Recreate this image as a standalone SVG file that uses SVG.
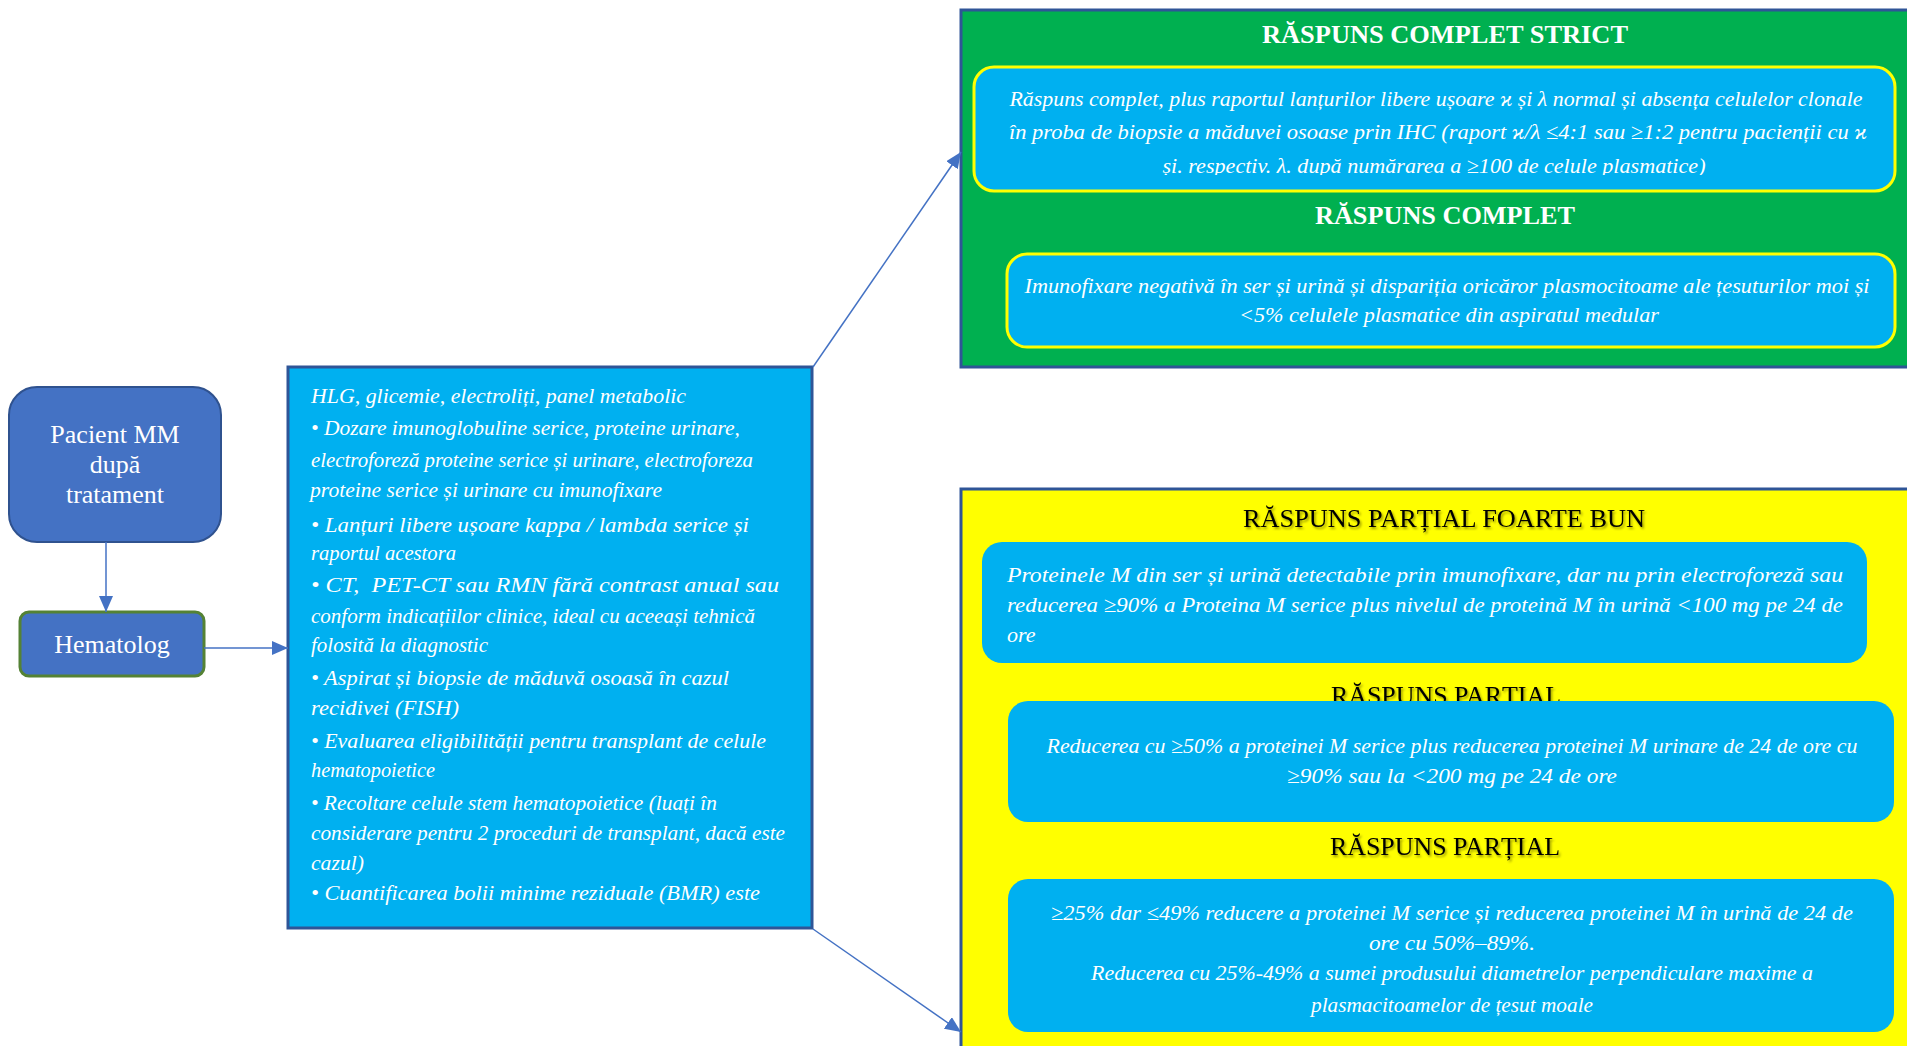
<svg xmlns="http://www.w3.org/2000/svg" width="1907" height="1046" viewBox="0 0 1907 1046">
<style>
.node{fill:#4472C4;}
.t{font-family:"Liberation Serif","Times New Roman",serif;}
.w{fill:#FFFFFF;}
.it{font-family:"Liberation Serif","DejaVu Serif",serif;font-style:italic;fill:#FFFFFF;font-size:22px;}
.bl{font-family:"Liberation Serif","DejaVu Serif",serif;font-style:italic;fill:#FFFFFF;font-size:21px;}
.ttl{font-family:"Liberation Serif",serif;font-size:25px;}
.cyan{fill:#00B0F0;}
.ybox{fill:#00B0F0;stroke:#FFFF00;stroke-width:3;}
.conn{stroke:#4472C4;stroke-width:1.5;fill:none;marker-end:url(#ah);}
</style>
<defs>
<marker id="ah" markerUnits="userSpaceOnUse" markerWidth="16" markerHeight="14" refX="16" refY="7" orient="auto">
<path d="M0,0 L16,7 L0,14 z" fill="#4472C4"/>
</marker>
<filter id="sh" x="-10%" y="-30%" width="120%" height="160%">
<feDropShadow dx="1.5" dy="2" stdDeviation="1.2" flood-color="#000000" flood-opacity="0.4"/>
</filter>
<clipPath id="c1"><rect x="974" y="67" width="921" height="108"/></clipPath>
</defs>
<rect width="1907" height="1046" fill="#FFFFFF"/>

<g id="pacient">
<rect x="9" y="387" width="212" height="155" rx="28" class="node" stroke="#2F528F" stroke-width="2"/>
<text class="t w" font-size="26" text-anchor="middle"><tspan x="115" y="443">Pacient MM</tspan><tspan x="115" y="473">după</tspan><tspan x="115" y="503">tratament</tspan></text>
</g>

<g id="hematolog">
<rect x="20" y="612" width="184" height="64" rx="9" class="node" stroke="#548235" stroke-width="3"/>
<text class="t w" font-size="26" text-anchor="middle" x="112" y="653">Hematolog</text>
</g>

<g id="investigatii">
<rect x="288" y="367" width="524" height="561" class="cyan" stroke="#2F5597" stroke-width="3"/>
<g class="bl">
<text x="311" y="403" textLength="375" lengthAdjust="spacingAndGlyphs">HLG, glicemie, electroliți, panel metabolic</text>
<text x="311" y="435" textLength="429" lengthAdjust="spacingAndGlyphs">• Dozare imunoglobuline serice, proteine urinare,</text>
<text x="311" y="467" textLength="442" lengthAdjust="spacingAndGlyphs">electroforeză proteine serice și urinare, electroforeza</text>
<text x="310" y="497" textLength="352" lengthAdjust="spacingAndGlyphs">proteine serice și urinare cu imunofixare</text>
<text x="311" y="532" textLength="438" lengthAdjust="spacingAndGlyphs">• Lanțuri libere ușoare kappa / lambda serice și</text>
<text x="311" y="560" textLength="145" lengthAdjust="spacingAndGlyphs">raportul acestora</text>
<text x="311" y="592" textLength="468" lengthAdjust="spacingAndGlyphs">• CT,&#160; PET-CT sau RMN fără contrast anual sau</text>
<text x="311" y="623" textLength="444" lengthAdjust="spacingAndGlyphs">conform indicațiilor clinice, ideal cu aceeași tehnică</text>
<text x="311" y="652" textLength="177" lengthAdjust="spacingAndGlyphs">folosită la diagnostic</text>
<text x="311" y="685" textLength="418" lengthAdjust="spacingAndGlyphs">• Aspirat și biopsie de măduvă osoasă în cazul</text>
<text x="311" y="715" textLength="148" lengthAdjust="spacingAndGlyphs">recidivei (FISH)</text>
<text x="311" y="748" textLength="455" lengthAdjust="spacingAndGlyphs">• Evaluarea eligibilității pentru transplant de celule</text>
<text x="311" y="777" textLength="124" lengthAdjust="spacingAndGlyphs">hematopoietice</text>
<text x="311" y="810" textLength="406" lengthAdjust="spacingAndGlyphs">• Recoltare celule stem hematopoietice (luați în</text>
<text x="311" y="840" textLength="474" lengthAdjust="spacingAndGlyphs">considerare pentru 2 proceduri de transplant, dacă este</text>
<text x="311" y="870" textLength="53" lengthAdjust="spacingAndGlyphs">cazul)</text>
<text x="311" y="900" textLength="449" lengthAdjust="spacingAndGlyphs">• Cuantificarea bolii minime reziduale (BMR) este</text>
</g>
</g>

<g id="raspuns-complet">
<rect x="961" y="10" width="960" height="357" fill="#00B050" stroke="#2F5597" stroke-width="3"/>
<text class="ttl w" font-weight="bold" x="1445" y="43" text-anchor="middle" textLength="366" lengthAdjust="spacingAndGlyphs">RĂSPUNS COMPLET STRICT</text>
<rect x="974" y="67" width="921" height="124" rx="20" class="ybox"/>
<g clip-path="url(#c1)" class="it" text-anchor="middle">
<text x="1436" y="106" textLength="853" lengthAdjust="spacingAndGlyphs">Răspuns complet, plus raportul lanțurilor libere ușoare ϰ și λ normal și absența celulelor clonale</text>
<text x="1438" y="139" textLength="858" lengthAdjust="spacingAndGlyphs">în proba de biopsie a măduvei osoase prin IHC (raport ϰ/λ ≤4:1 sau ≥1:2 pentru pacienții cu ϰ</text>
<text x="1434" y="173" textLength="543" lengthAdjust="spacingAndGlyphs">și. respectiv. λ. după numărarea a ≥100 de celule plasmatice)</text>
</g>
<text class="ttl w" font-weight="bold" x="1445" y="224" text-anchor="middle" textLength="260" lengthAdjust="spacingAndGlyphs">RĂSPUNS COMPLET</text>
<rect x="1007" y="254" width="888" height="93" rx="20" class="ybox"/>
<g class="it" text-anchor="middle">
<text x="1447" y="293" textLength="845" lengthAdjust="spacingAndGlyphs">Imunofixare negativă în ser și urină și dispariția oricăror plasmocitoame ale țesuturilor moi și</text>
<text x="1449" y="322" textLength="420" lengthAdjust="spacingAndGlyphs">&lt;5% celulele plasmatice din aspiratul medular</text>
</g>
</g>

<g id="raspuns-partial">
<rect x="961" y="489" width="960" height="600" fill="#FFFF00" stroke="#2F5597" stroke-width="3"/>
<text class="ttl" fill="#000000" filter="url(#sh)" x="1444" y="527" text-anchor="middle" textLength="402" lengthAdjust="spacingAndGlyphs">RĂSPUNS PARȚIAL FOARTE BUN</text>
<rect x="982" y="542" width="885" height="121" rx="20" class="cyan"/>
<g class="it">
<text x="1007" y="582" textLength="836" lengthAdjust="spacingAndGlyphs">Proteinele M din ser și urină detectabile prin imunofixare, dar nu prin electroforeză sau</text>
<text x="1007" y="612" textLength="836" lengthAdjust="spacingAndGlyphs">reducerea ≥90% a Proteina M serice plus nivelul de proteină M în urină &lt;100 mg pe 24 de</text>
<text x="1007" y="642">ore</text>
</g>
<text class="ttl" fill="#000000" filter="url(#sh)" x="1446" y="704" text-anchor="middle" textLength="230" lengthAdjust="spacingAndGlyphs">RĂSPUNS PARȚIAL</text>
<rect x="1008" y="701" width="886" height="121" rx="20" class="cyan"/>
<g class="it" text-anchor="middle">
<text x="1452" y="753" textLength="811" lengthAdjust="spacingAndGlyphs">Reducerea cu ≥50% a proteinei M serice plus reducerea proteinei M urinare de 24 de ore cu</text>
<text x="1452" y="783" textLength="330" lengthAdjust="spacingAndGlyphs">≥90% sau la &lt;200 mg pe 24 de ore</text>
</g>
<text class="ttl" fill="#000000" filter="url(#sh)" x="1445" y="855" text-anchor="middle" textLength="230" lengthAdjust="spacingAndGlyphs">RĂSPUNS PARȚIAL</text>
<rect x="1008" y="879" width="886" height="153" rx="20" class="cyan"/>
<g class="it" text-anchor="middle">
<text x="1452" y="920" textLength="802" lengthAdjust="spacingAndGlyphs">≥25% dar ≤49% reducere a proteinei M serice și reducerea proteinei M în urină de 24 de</text>
<text x="1452" y="950" textLength="166" lengthAdjust="spacingAndGlyphs">ore cu 50%–89%.</text>
<text x="1452" y="980" textLength="722" lengthAdjust="spacingAndGlyphs">Reducerea cu 25%-49% a sumei produsului diametrelor perpendiculare maxime a</text>
<text x="1452" y="1012" textLength="282" lengthAdjust="spacingAndGlyphs">plasmacitoamelor de țesut moale</text>
</g>
</g>

<g id="connectors">
<path class="conn" d="M106,542 L106,612"/>
<path class="conn" d="M204,648 L288,648"/>
<path class="conn" d="M813,367 L961,152"/>
<path class="conn" d="M813,929 L961,1032"/>
</g>
</svg>
